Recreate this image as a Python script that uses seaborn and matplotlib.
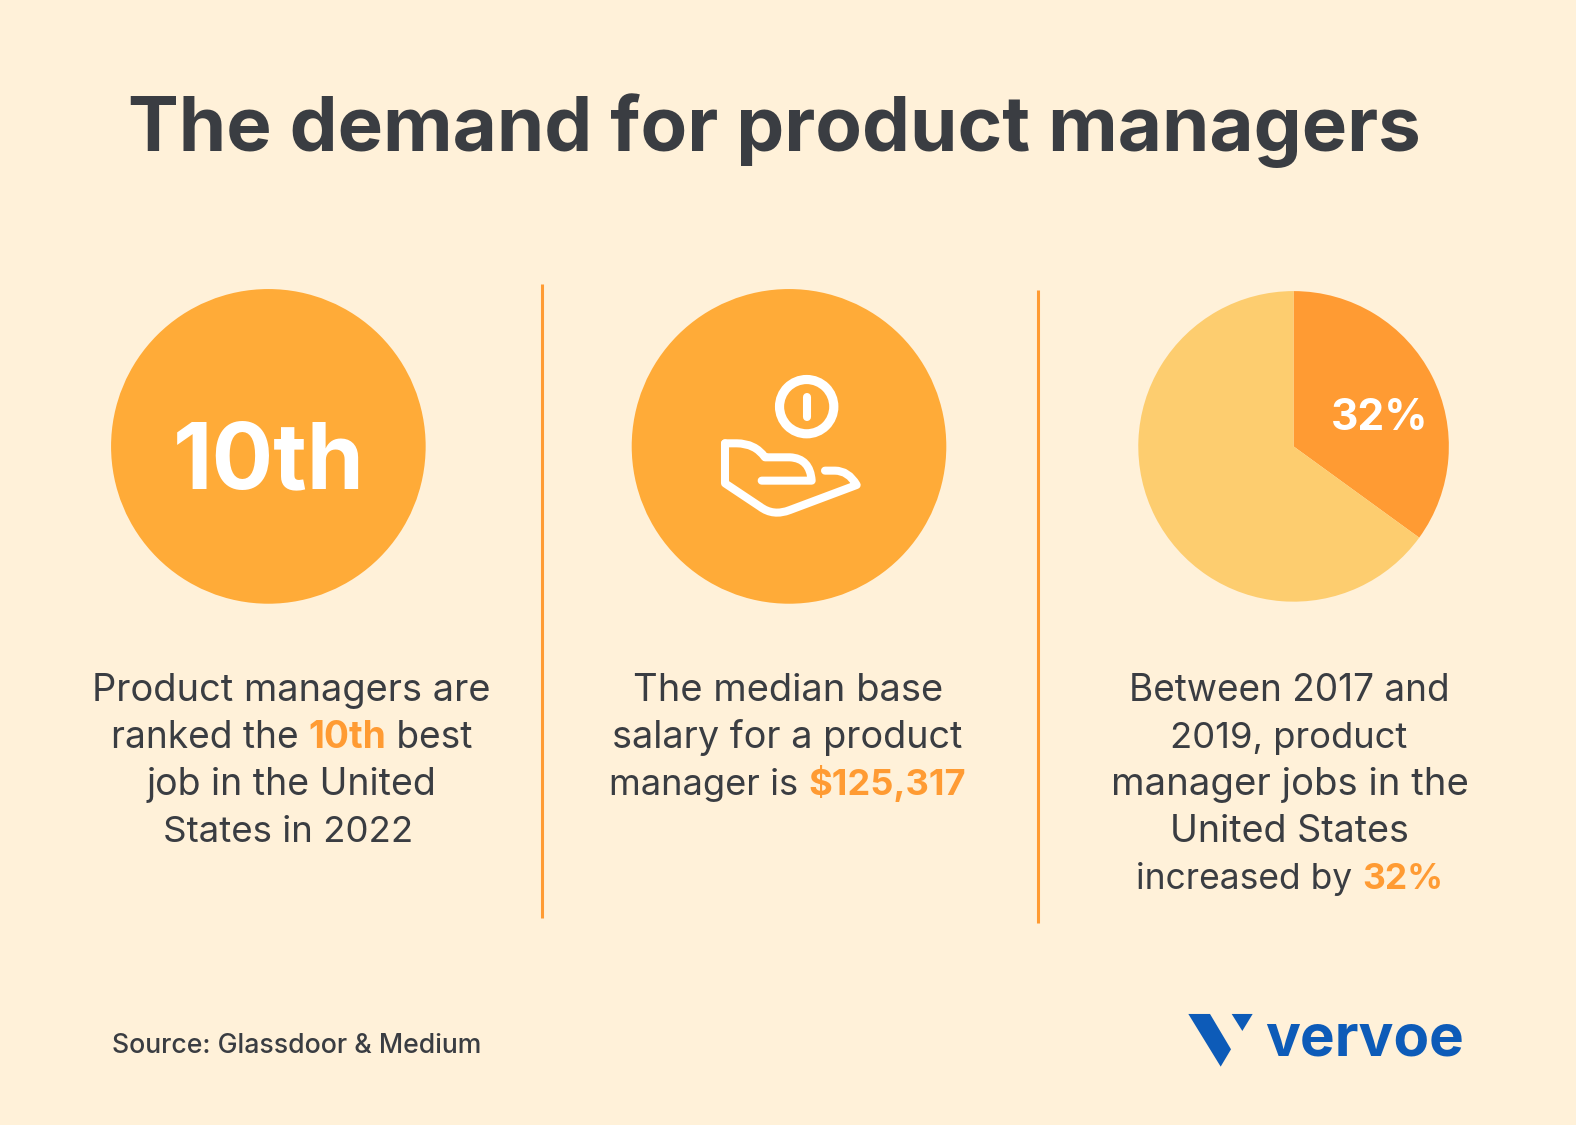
import matplotlib
matplotlib.use('Agg')
import matplotlib.pyplot as plt
from matplotlib.patches import Circle, PathPatch, Polygon
from matplotlib.path import Path
import seaborn as sns

BG = '#FFF1D9'
DARK = '#3A3D42'
ORANGE = '#FF9B33'
CIRCLE = '#FFAB38'
PALE = '#FDCD6F'
BLUE = '#0D5BB8'

sns.set_theme(style='white', rc={'figure.facecolor': BG, 'axes.facecolor': 'none'})
plt.rcParams['font.family'] = ['Inter', 'DejaVu Sans']

title = 'The demand for product managers'
source = 'Source: Glassdoor & Medium'
rank_label = '10th'
pie_labels = ['32%', '']
pie_shares = [35, 65]
pie_colors = [ORANGE, PALE]

# each line is a list of (text, highlighted)
col1 = [[('Product managers are', False)],
        [('ranked the ', False), ('10th', True), (' best', False)],
        [('job in the United', False)],
        [('States in 2022', False)]]
col2 = [[('The median base', False)],
        [('salary for a product', False)],
        [('manager is ', False), ('$125,317', True)]]
col3 = [[('Between 2017 and', False)],
        [('2019, product', False)],
        [('manager jobs in the', False)],
        [('United States', False)],
        [('increased by ', False), ('32%', True)]]

# left and right edge of every text line
spans1 = [(92, 490), (110, 471), (146, 435), (162, 411)]
spans2 = [(630, 939), (609, 959), (606, 962)]
spans3 = [(1123, 1443), (1164, 1401), (1105, 1461), (1164, 1402), (1130, 1436)]

W, H = 1568, 1119
fig = plt.figure(figsize=(15.76, 11.25), dpi=100)
ax = fig.add_axes([0, 0, 1, 1])
ax.set_xlim(0, W)
ax.set_ylim(H, 0)
ax.axis('off')
renderer = fig.canvas.get_renderer()


def text_width(t):
    box = t.get_window_extent(renderer)
    return box.width * W / fig.bbox.width


def fit_text(x0, x1, y, s, size, color, weight):
    # scale the font so the text spans x0..x1
    t = ax.text(x0, y, s, fontsize=size, color=color, fontweight=weight, ha='left', va='baseline')
    t.set_fontsize(size * (x1 - x0) / text_width(t))
    return t


def rich_line(span, y, parts, size=26.5):
    pieces = []
    for s, hi in parts:
        # spaces at the ends get dropped from the extent, so use no-break spaces
        t = ax.text(0, y, s.replace(' ', '\u00a0'), fontsize=size, va='baseline',
                    color=ORANGE if hi else DARK, fontweight='bold' if hi else 'normal')
        pieces.append(t)
    total = sum(text_width(t) for t in pieces)
    k = (span[1] - span[0]) / total
    x = span[0]
    for t in pieces:
        t.set_fontsize(size * k)
        t.set_x(x)
        x += text_width(t)


fit_text(127, 1415, 150, title, 60, DARK, 'bold')

ax.add_patch(Circle((267, 444), 156.5, color=CIRCLE, lw=0))
ax.add_patch(Circle((785, 444), 156.5, color=CIRCLE, lw=0))
fit_text(172, 363, 486, rank_label, 60, 'white', 'bold')

ax.plot([539, 539], [282, 913], color=ORANGE, lw=2.2, solid_capstyle='butt')
ax.plot([1033, 1033], [288, 918], color=ORANGE, lw=2.2, solid_capstyle='butt')

# pie gets its own axes
r = 154.5
cx, cy = 1287, 444
pie_ax = fig.add_axes([(cx - r) / W, 1 - (cy + r) / H, 2 * r / W, 2 * r / H])
pie_ax.pie(pie_shares, colors=pie_colors, startangle=90, counterclock=False, radius=1,
           wedgeprops={'linewidth': 0})
pie_ax.set_xlim(-1, 1)
pie_ax.set_ylim(-1, 1)
fit_text(1324, 1421, 428, pie_labels[0], 34, 'white', 'bold').set_zorder(5)
ax.set_zorder(3)


def icon_xy(zx, zy):
    # positions measured on the 3x crop of the icon
    return (zx / 3 + 680) / 1.0051, (zy / 3 + 350) / 1.0054


hand_nodes = [((135, 280), Path.MOVETO), ((135, 400), Path.LINETO), ((240, 470), Path.LINETO),
              ((280, 500), Path.CURVE3), ((330, 480), Path.CURVE3), ((530, 405), Path.LINETO),
              ((505, 362), Path.CURVE3), ((465, 362), Path.CURVE3), ((435, 362), Path.LINETO)]
palm_nodes = [((135, 280), Path.MOVETO), ((170, 280), Path.LINETO),
              ((225, 280), Path.CURVE3), ((255, 322), Path.CURVE3), ((330, 322), Path.LINETO),
              ((390, 325), Path.CURVE3), ((395, 392), Path.CURVE3), ((245, 392), Path.LINETO)]
for nodes in (hand_nodes, palm_nodes):
    path = Path([icon_xy(*p) for p, _ in nodes], [c for _, c in nodes])
    ax.add_patch(PathPatch(path, fill=False, ec='white', lw=5.8, capstyle='round', joinstyle='round'))
ax.add_patch(Circle(icon_xy(380, 170), 27, fill=False, ec='white', lw=6.6))
ax.plot(*zip(icon_xy(380, 142), icon_xy(380, 200)), color='white', lw=5.8, solid_capstyle='round')

line_gap = 46.7
for spans, lines in ((spans1, col1), (spans2, col2), (spans3, col3)):
    for i, parts in enumerate(lines):
        rich_line(spans[i], 697 + i * line_gap, parts)

fit_text(111, 479, 1047, source, 19, DARK, 'medium')


def logo_xy(zx, zy):
    return (zx / 3 + 1160) / 1.0051, (zy / 3 + 990) / 1.0054


ax.add_patch(Polygon([logo_xy(*p) for p in [(85, 72), (150, 72), (213, 178), (182, 230)]], color=BLUE, lw=0))
ax.add_patch(Polygon([logo_xy(*p) for p in [(215, 72), (278, 72), (247, 123)]], color=BLUE, lw=0))
fit_text(1259, 1457, 1050, 'vervoe', 50, BLUE, 'bold')

sns.despine(ax=ax, left=True, bottom=True)
fig.savefig('out.png', dpi=100, facecolor=BG)
